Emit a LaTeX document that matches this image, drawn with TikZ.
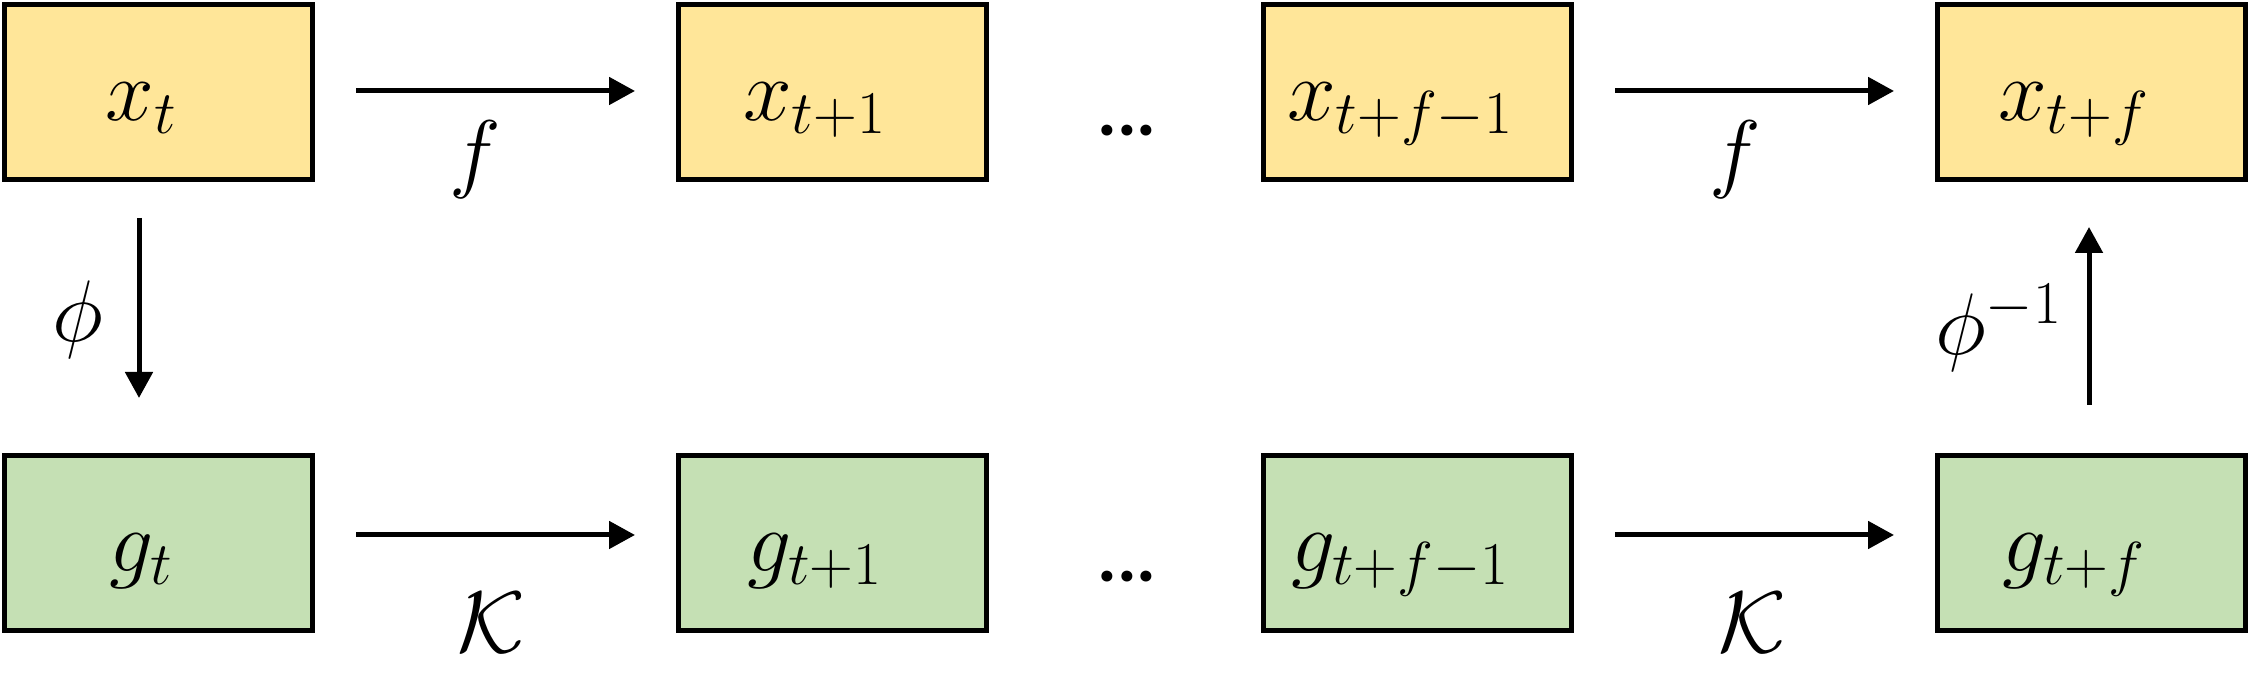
\documentclass[tikz,border=0pt]{standalone}
\usepackage{fontspec}
\newfontfamily\dotsfont{Carlito}
\usetikzlibrary{arrows.meta}
\definecolor{yfill}{HTML}{FFE699}
\definecolor{gfill}{HTML}{C5E0B4}
\begin{document}
\begin{tikzpicture}[
  mathfont/.style={font=\fontsize{24}{29}\selectfont},
  statebox/.style={draw=black, line width=0.05cm, minimum width=3.08cm, minimum height=1.75cm,
    inner sep=0pt, outer sep=0pt, text height=0.56cm, text depth=0pt, mathfont},
  xbox/.style={statebox, fill=yfill},
  gbox/.style={statebox, fill=gfill},
  arr/.style={line width=0.05cm, -{Triangle[length=0.26cm,width=0.27cm]}},
  lab/.style={inner sep=0pt, mathfont},
  dotsnode/.style={inner sep=0pt, font=\dotsfont\bfseries\fontsize{21}{25}\selectfont}
]
\useasboundingbox (0,0) rectangle (22.49,6.88);
% top row
\node[xbox] (x0) at (1.585,5.955) {$x_t$\hspace*{0.34cm}};
\node[xbox] (x1) at (8.32,5.955) {$x_{t+1}$\hspace*{0.34cm}};
\node[xbox] (x2) at (14.175,5.955) {$x_{t+f-1}$\hspace*{0.34cm}};
\node[xbox] (x3) at (20.91,5.955) {$x_{t+f}$\hspace*{0.34cm}};
% bottom row
\node[gbox] (g0) at (1.585,1.445) {$g_t$\hspace*{0.34cm}};
\node[gbox] (g1) at (8.32,1.445) {$g_{t+1}$\hspace*{0.34cm}};
\node[gbox] (g2) at (14.175,1.445) {$g_{t+f-1}$\hspace*{0.34cm}};
\node[gbox] (g3) at (20.91,1.445) {$g_{t+f}$\hspace*{0.34cm}};
% dots
\node[dotsnode] (dtop) at (11.27,5.57) {...};
\node[dotsnode] (dbot) at (11.27,1.11) {...};
% horizontal arrows
\draw[arr, shorten <=0.435cm, shorten >=0.43cm] ([yshift=0.015cm]x0.east) -- ([yshift=0.015cm]x1.west);
\draw[arr, shorten <=0.435cm, shorten >=0.43cm] ([yshift=0.015cm]x2.east) -- ([yshift=0.015cm]x3.west);
\draw[arr, shorten <=0.435cm, shorten >=0.43cm] ([yshift=0.085cm]g0.east) -- ([yshift=0.085cm]g1.west);
\draw[arr, shorten <=0.435cm, shorten >=0.43cm] ([yshift=0.085cm]g2.east) -- ([yshift=0.085cm]g3.west);
% vertical arrows
\draw[arr, shorten <=0.38cm, shorten >=0.58cm] ([xshift=-0.195cm]x0.south) -- ([xshift=-0.195cm]g0.north);
\draw[arr, shorten <=0.51cm, shorten >=0.47cm] ([xshift=-0.02cm]g3.north) -- ([xshift=-0.02cm]x3.south);
% labels
\node[lab] (lf1) at (4.75,5.28) {$f$};
\node[lab] (lf2) at (17.35,5.28) {$f$};
\node[lab] (lk1) at (4.91,0.65) {$\mathcal{K}$};
\node[lab] (lk2) at (17.52,0.65) {$\mathcal{K}$};
\node[lab] (lphi) at (0.78,3.68) {$\phi$};
\node[lab] (lphiinv) at (19.99,3.60) {$\phi^{-1}$};
\end{tikzpicture}
\end{document}
